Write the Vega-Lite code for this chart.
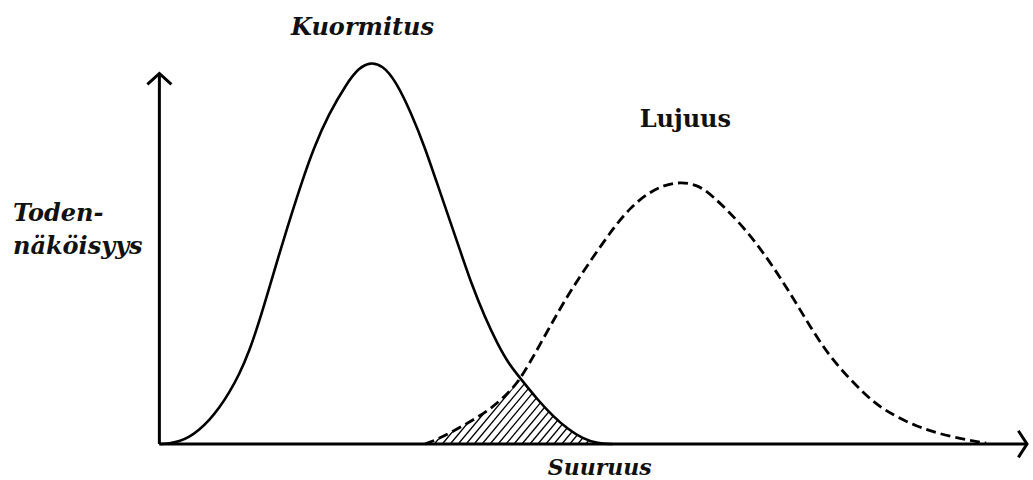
{
  "$schema": "https://vega.github.io/schema/vega-lite/v6.json",
  "width": 1033,
  "height": 480,
  "padding": 0,
  "autosize": {"type": "fit", "contains": "padding"},
  "background": "white",
  "config": {"view": {"stroke": null}},
  "datasets": {
    "curves": [
      {"jakauma": "Kuormitus", "suuruus": 0.0, "tiheys": 0.0},
      {"jakauma": "Kuormitus", "suuruus": 1.0, "tiheys": 0.001},
      {"jakauma": "Kuormitus", "suuruus": 2.0, "tiheys": 0.007},
      {"jakauma": "Kuormitus", "suuruus": 3.0, "tiheys": 0.018},
      {"jakauma": "Kuormitus", "suuruus": 4.0, "tiheys": 0.037},
      {"jakauma": "Kuormitus", "suuruus": 5.0, "tiheys": 0.062},
      {"jakauma": "Kuormitus", "suuruus": 6.0, "tiheys": 0.094},
      {"jakauma": "Kuormitus", "suuruus": 7.0, "tiheys": 0.134},
      {"jakauma": "Kuormitus", "suuruus": 8.0, "tiheys": 0.181},
      {"jakauma": "Kuormitus", "suuruus": 9.0, "tiheys": 0.241},
      {"jakauma": "Kuormitus", "suuruus": 10.0, "tiheys": 0.319},
      {"jakauma": "Kuormitus", "suuruus": 11.0, "tiheys": 0.406},
      {"jakauma": "Kuormitus", "suuruus": 12.0, "tiheys": 0.495},
      {"jakauma": "Kuormitus", "suuruus": 13.17, "tiheys": 0.594},
      {"jakauma": "Kuormitus", "suuruus": 14.33, "tiheys": 0.688},
      {"jakauma": "Kuormitus", "suuruus": 15.5, "tiheys": 0.775},
      {"jakauma": "Kuormitus", "suuruus": 17.0, "tiheys": 0.864},
      {"jakauma": "Kuormitus", "suuruus": 18.83, "tiheys": 0.945},
      {"jakauma": "Kuormitus", "suuruus": 20.0, "tiheys": 0.984},
      {"jakauma": "Kuormitus", "suuruus": 21.17, "tiheys": 1.0},
      {"jakauma": "Kuormitus", "suuruus": 22.4, "tiheys": 0.991},
      {"jakauma": "Kuormitus", "suuruus": 23.67, "tiheys": 0.953},
      {"jakauma": "Kuormitus", "suuruus": 25.33, "tiheys": 0.864},
      {"jakauma": "Kuormitus", "suuruus": 26.67, "tiheys": 0.775},
      {"jakauma": "Kuormitus", "suuruus": 27.83, "tiheys": 0.686},
      {"jakauma": "Kuormitus", "suuruus": 29.0, "tiheys": 0.597},
      {"jakauma": "Kuormitus", "suuruus": 30.17, "tiheys": 0.508},
      {"jakauma": "Kuormitus", "suuruus": 31.33, "tiheys": 0.419},
      {"jakauma": "Kuormitus", "suuruus": 32.67, "tiheys": 0.332},
      {"jakauma": "Kuormitus", "suuruus": 34.0, "tiheys": 0.259},
      {"jakauma": "Kuormitus", "suuruus": 35.1, "tiheys": 0.209},
      {"jakauma": "Kuormitus", "suuruus": 36.3, "tiheys": 0.17},
      {"jakauma": "Kuormitus", "suuruus": 38.0, "tiheys": 0.115},
      {"jakauma": "Kuormitus", "suuruus": 39.5, "tiheys": 0.073},
      {"jakauma": "Kuormitus", "suuruus": 41.0, "tiheys": 0.039},
      {"jakauma": "Kuormitus", "suuruus": 42.5, "tiheys": 0.014},
      {"jakauma": "Kuormitus", "suuruus": 44.0, "tiheys": 0.001},
      {"jakauma": "Kuormitus", "suuruus": 45.5, "tiheys": 0.0},
      {"jakauma": "Lujuus", "suuruus": 26.67, "tiheys": 0.0},
      {"jakauma": "Lujuus", "suuruus": 28.0, "tiheys": 0.013},
      {"jakauma": "Lujuus", "suuruus": 30.33, "tiheys": 0.045},
      {"jakauma": "Lujuus", "suuruus": 33.17, "tiheys": 0.089},
      {"jakauma": "Lujuus", "suuruus": 35.0, "tiheys": 0.133},
      {"jakauma": "Lujuus", "suuruus": 36.3, "tiheys": 0.17},
      {"jakauma": "Lujuus", "suuruus": 39.0, "tiheys": 0.298},
      {"jakauma": "Lujuus", "suuruus": 41.0, "tiheys": 0.39},
      {"jakauma": "Lujuus", "suuruus": 43.33, "tiheys": 0.482},
      {"jakauma": "Lujuus", "suuruus": 45.67, "tiheys": 0.569},
      {"jakauma": "Lujuus", "suuruus": 47.33, "tiheys": 0.62},
      {"jakauma": "Lujuus", "suuruus": 49.0, "tiheys": 0.656},
      {"jakauma": "Lujuus", "suuruus": 50.67, "tiheys": 0.678},
      {"jakauma": "Lujuus", "suuruus": 52.33, "tiheys": 0.686},
      {"jakauma": "Lujuus", "suuruus": 53.9, "tiheys": 0.679},
      {"jakauma": "Lujuus", "suuruus": 55.33, "tiheys": 0.656},
      {"jakauma": "Lujuus", "suuruus": 58.67, "tiheys": 0.569},
      {"jakauma": "Lujuus", "suuruus": 61.17, "tiheys": 0.482},
      {"jakauma": "Lujuus", "suuruus": 63.33, "tiheys": 0.395},
      {"jakauma": "Lujuus", "suuruus": 65.33, "tiheys": 0.307},
      {"jakauma": "Lujuus", "suuruus": 67.5, "tiheys": 0.22},
      {"jakauma": "Lujuus", "suuruus": 70.67, "tiheys": 0.133},
      {"jakauma": "Lujuus", "suuruus": 72.67, "tiheys": 0.089},
      {"jakauma": "Lujuus", "suuruus": 76.0, "tiheys": 0.045},
      {"jakauma": "Lujuus", "suuruus": 79.33, "tiheys": 0.019},
      {"jakauma": "Lujuus", "suuruus": 83.0, "tiheys": 0.002}
    ],
    "mask": [
      {"osa": "vasen", "suuruus": 24.0, "tiheys": 0.0},
      {"osa": "vasen", "suuruus": 26.67, "tiheys": 0.0},
      {"osa": "vasen", "suuruus": 28.0, "tiheys": 0.013},
      {"osa": "vasen", "suuruus": 30.33, "tiheys": 0.045},
      {"osa": "vasen", "suuruus": 33.17, "tiheys": 0.089},
      {"osa": "vasen", "suuruus": 35.0, "tiheys": 0.133},
      {"osa": "vasen", "suuruus": 36.3, "tiheys": 0.17},
      {"osa": "oikea", "suuruus": 36.3, "tiheys": 0.17},
      {"osa": "oikea", "suuruus": 38.0, "tiheys": 0.115},
      {"osa": "oikea", "suuruus": 39.5, "tiheys": 0.073},
      {"osa": "oikea", "suuruus": 41.0, "tiheys": 0.039},
      {"osa": "oikea", "suuruus": 42.5, "tiheys": 0.014},
      {"osa": "oikea", "suuruus": 44.0, "tiheys": 0.001},
      {"osa": "oikea", "suuruus": 45.5, "tiheys": 0.0},
      {"osa": "oikea", "suuruus": 51.5, "tiheys": 0.0}
    ],
    "hatch": [
      {"alku": 26.0, "loppu": 32.4}, {"alku": 26.8, "loppu": 33.2},
      {"alku": 27.6, "loppu": 34.0}, {"alku": 28.4, "loppu": 34.8},
      {"alku": 29.2, "loppu": 35.6}, {"alku": 30.0, "loppu": 36.4},
      {"alku": 30.8, "loppu": 37.2}, {"alku": 31.6, "loppu": 38.0},
      {"alku": 32.4, "loppu": 38.8}, {"alku": 33.2, "loppu": 39.6},
      {"alku": 34.0, "loppu": 40.4}, {"alku": 34.8, "loppu": 41.2},
      {"alku": 35.6, "loppu": 42.0}, {"alku": 36.4, "loppu": 42.8},
      {"alku": 37.2, "loppu": 43.6}, {"alku": 38.0, "loppu": 44.4},
      {"alku": 38.8, "loppu": 45.2}, {"alku": 39.6, "loppu": 46.0},
      {"alku": 40.4, "loppu": 46.8}, {"alku": 41.2, "loppu": 47.6},
      {"alku": 42.0, "loppu": 48.4}, {"alku": 42.8, "loppu": 49.2},
      {"alku": 43.6, "loppu": 50.0}, {"alku": 44.4, "loppu": 50.8}
    ],
    "one": [{}]
  },
  "layer": [
    {
      "data": {"name": "hatch"},
      "mark": {"type": "rule", "color": "black", "strokeWidth": 1.3},
      "encoding": {
        "x": {"field": "alku", "type": "quantitative", "axis": null, "scale": {"domain": [-16, 87.3], "nice": false, "zero": false}},
        "x2": {"field": "loppu"},
        "y": {"datum": 0, "type": "quantitative", "axis": null, "scale": {"domain": [-0.0942, 1.1623], "nice": false, "zero": false}},
        "y2": {"datum": 0.2}
      }
    },
    {
      "data": {"name": "mask"},
      "mark": {"type": "area", "color": "white", "interpolate": "basis", "opacity": 1},
      "encoding": {
        "x": {"field": "suuruus", "type": "quantitative", "axis": null},
        "y": {"field": "tiheys", "type": "quantitative", "axis": null},
        "y2": {"datum": 0.215},
        "detail": {"field": "osa"}
      }
    },
    {
      "data": {"name": "curves"},
      "transform": [{"filter": "datum.jakauma == 'Kuormitus'"}],
      "mark": {"type": "line", "color": "black", "strokeWidth": 2.6, "interpolate": "basis"},
      "encoding": {
        "x": {"field": "suuruus", "type": "quantitative", "axis": null},
        "y": {"field": "tiheys", "type": "quantitative", "axis": null}
      }
    },
    {
      "data": {"name": "curves"},
      "transform": [{"filter": "datum.jakauma == 'Lujuus'"}],
      "mark": {"type": "line", "color": "black", "strokeWidth": 2.8, "strokeDash": [10, 5], "interpolate": "basis"},
      "encoding": {
        "x": {"field": "suuruus", "type": "quantitative", "axis": null},
        "y": {"field": "tiheys", "type": "quantitative", "axis": null}
      }
    },
    {
      "data": {"name": "one"},
      "mark": {"type": "rule", "color": "black", "strokeWidth": 3},
      "encoding": {
        "x": {"datum": 0, "type": "quantitative", "axis": null},
        "x2": {"datum": 87.1},
        "y": {"datum": 0, "type": "quantitative", "axis": null}
      }
    },
    {
      "data": {"name": "one"},
      "mark": {"type": "rule", "color": "black", "strokeWidth": 3},
      "encoding": {
        "x": {"datum": 0, "type": "quantitative", "axis": null},
        "y": {"datum": 0, "type": "quantitative", "axis": null},
        "y2": {"datum": 0.97}
      }
    },
    {
      "data": {"name": "one"},
      "mark": {"type": "point", "shape": "M-1,0.9L0,0L1,0.9", "size": 576, "filled": false, "stroke": "black", "strokeWidth": 3, "opacity": 1},
      "encoding": {
        "x": {"datum": 0, "type": "quantitative", "axis": null},
        "y": {"datum": 0.97, "type": "quantitative", "axis": null}
      }
    },
    {
      "data": {"name": "one"},
      "mark": {"type": "point", "shape": "M-0.65,-1L0,0L-0.65,1", "size": 708, "filled": false, "stroke": "black", "strokeWidth": 3, "opacity": 1},
      "encoding": {
        "x": {"datum": 87.1, "type": "quantitative", "axis": null},
        "y": {"datum": 0, "type": "quantitative", "axis": null}
      }
    },
    {
      "data": {"values": [
        {"teksti": "Kuormitus", "suuruus": 20.4, "tiheys": 1.071}
      ]},
      "mark": {"type": "text", "font": "DejaVu Serif", "fontSize": 24, "fontStyle": "italic", "fontWeight": "bold", "align": "center", "baseline": "alphabetic", "color": "#111111"},
      "encoding": {
        "x": {"field": "suuruus", "type": "quantitative", "axis": null},
        "y": {"field": "tiheys", "type": "quantitative", "axis": null},
        "text": {"field": "teksti"}
      }
    },
    {
      "data": {"values": [
        {"teksti": "Suuruus", "suuruus": 44.2, "tiheys": -0.081}
      ]},
      "mark": {"type": "text", "font": "DejaVu Serif", "fontSize": 22, "fontStyle": "italic", "fontWeight": "bold", "align": "center", "baseline": "alphabetic", "color": "#111111"},
      "encoding": {
        "x": {"field": "suuruus", "type": "quantitative", "axis": null},
        "y": {"field": "tiheys", "type": "quantitative", "axis": null},
        "text": {"field": "teksti"}
      }
    },
    {
      "data": {"values": [
        {"teksti": "Toden-", "suuruus": -14.7, "tiheys": 0.585},
        {"teksti": "näköisyys", "suuruus": -14.7, "tiheys": 0.497}
      ]},
      "mark": {"type": "text", "font": "DejaVu Serif", "fontSize": 24, "fontStyle": "italic", "fontWeight": "bold", "align": "left", "baseline": "alphabetic", "color": "#111111"},
      "encoding": {
        "x": {"field": "suuruus", "type": "quantitative", "axis": null},
        "y": {"field": "tiheys", "type": "quantitative", "axis": null},
        "text": {"field": "teksti"}
      }
    },
    {
      "data": {"values": [
        {"teksti": "Lujuus", "suuruus": 52.8, "tiheys": 0.829}
      ]},
      "mark": {"type": "text", "font": "DejaVu Serif", "fontSize": 24, "fontWeight": "bold", "align": "center", "baseline": "alphabetic", "color": "#111111"},
      "encoding": {
        "x": {"field": "suuruus", "type": "quantitative", "axis": null},
        "y": {"field": "tiheys", "type": "quantitative", "axis": null},
        "text": {"field": "teksti"}
      }
    }
  ]
}
